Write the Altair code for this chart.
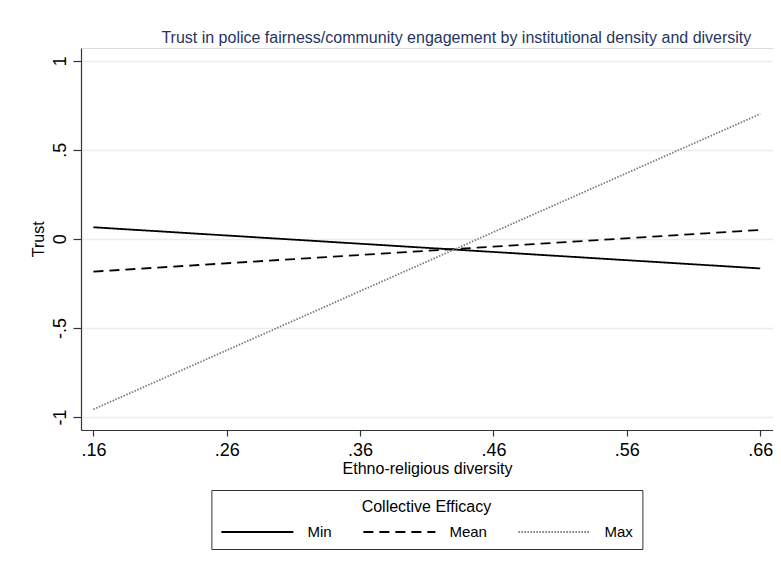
import altair as alt
import pandas as pd

# ---- data ----
diversity = [0.16, 0.66]
trust_min = [0.065, -0.166]
trust_mean = [-0.184, 0.050]
trust_max = [-0.957, 0.701]

series_names = ["Min", "Mean", "Max"]
x_tick_values = [0.16, 0.26, 0.36, 0.46, 0.56, 0.66]
x_tick_labels = [".16", ".26", ".36", ".46", ".56", ".66"]
y_tick_values = [-1, -0.5, 0, 0.5, 1]
y_tick_labels = ["-1", "-.5", "0", ".5", "1"]

rows = []
for name, vals in zip(series_names, [trust_min, trust_mean, trust_max]):
    for xv, yv in zip(diversity, vals):
        rows.append({"diversity": xv, "trust": yv, "efficacy": name})
df = pd.DataFrame(rows)


def label_expr(values, labels):
    expr = "''"
    for v, l in reversed(list(zip(values, labels))):
        expr = f"abs(datum.value - ({v})) < 1e-6 ? '{l}' : ({expr})"
    return expr


FONT = "Liberation Sans"

x_axis = alt.Axis(
    values=x_tick_values,
    labelExpr=label_expr(x_tick_values, x_tick_labels),
    grid=False,
    domainColor="#333333",
    domainWidth=1.2,
    tickColor="#333333",
    tickWidth=1.2,
    tickSize=6,
    labelFont=FONT,
    labelFontSize=18,
    labelColor="#000000",
    labelBaseline="alphabetic",
    labelPadding=19,
    labelFlush=False,
    title="Ethno-religious diversity",
    titleFont=FONT,
    titleFontSize=16,
    titleFontWeight="normal",
    titleColor="#000000",
    titleBaseline="alphabetic",
    titleY=43.5,
)

y_axis = alt.Axis(
    values=y_tick_values,
    labelExpr=label_expr(y_tick_values, y_tick_labels),
    grid=True,
    gridColor="#e6eef0",
    gridWidth=1.5,
    domainColor="#333333",
    domainWidth=1.2,
    tickColor="#333333",
    tickWidth=1.2,
    tickSize=8,
    labelFont=FONT,
    labelFontSize=18,
    labelColor="#000000",
    labelAngle=270,
    labelAlign="center",
    labelBaseline="alphabetic",
    labelPadding=8,
    labelFlush=False,
    title="Trust",
    titleFont=FONT,
    titleFontSize=16,
    titleFontWeight="normal",
    titleColor="#000000",
    titleAngle=270,
    titleAlign="center",
    titleBaseline="alphabetic",
    titleX=-37.3,
    titleY=190.85,
)

legend = alt.Legend(
    title="Collective Efficacy",
    orient="none",
    legendX=130.4,
    legendY=442,
    direction="horizontal",
    columns=3,
    columnPadding=30,
    symbolType="stroke",
    symbolSize=5184,
    clipHeight=16,
    labelOffset=13,
    labelFont=FONT,
    labelFontSize=15,
    labelColor="#000000",
    titleFont=FONT,
    titleFontSize=16,
    titleFontWeight="normal",
    titleColor="#000000",
    titleAnchor="middle",
    titlePadding=9,
    padding=9,
    strokeColor="#333333",
    fillColor="#ffffff",
)

chart = (
    alt.Chart(df)
    .mark_line(clip=True)
    .encode(
        x=alt.X(
            "diversity:Q",
            scale=alt.Scale(domain=[0.1507, 0.6696], nice=False, zero=False),
            axis=x_axis,
        ),
        y=alt.Y(
            "trust:Q",
            scale=alt.Scale(domain=[-1.073, 1.0713], nice=False, zero=False),
            axis=y_axis,
        ),
        color=alt.Color(
            "efficacy:N",
            scale=alt.Scale(domain=series_names, range=["#000000", "#000000", "#7a7a7a"]),
            legend=legend,
        ),
        strokeDash=alt.StrokeDash(
            "efficacy:N",
            scale=alt.Scale(domain=series_names, range=[[1, 0], [10, 6], [1.5, 1.5]]),
            legend=legend,
        ),
        strokeWidth=alt.StrokeWidth(
            "efficacy:N",
            scale=alt.Scale(domain=series_names, range=[1.8, 1.8, 1.2]),
            legend=legend,
        ),
        detail="efficacy:N",
    )
    .properties(
        width=692,
        height=382,
        title=alt.TitleParams(
            "Trust in police fairness/community engagement by institutional density and diversity",
            anchor="start",
            frame="group",
            dx=80.4,
            dy=17,
            offset=6,
            baseline="alphabetic",
            font=FONT,
            fontSize=16,
            fontWeight="normal",
            color="#27345f",
        ),
        autosize=alt.AutoSizeParams(type="none"),
        padding={"left": 73, "top": 40, "right": 0, "bottom": 138},
    )
    .configure_view(stroke=None)
    .configure(background="#ffffff")
)

chart.save("out.html", embed_options={"renderer": "svg", "actions": False})
